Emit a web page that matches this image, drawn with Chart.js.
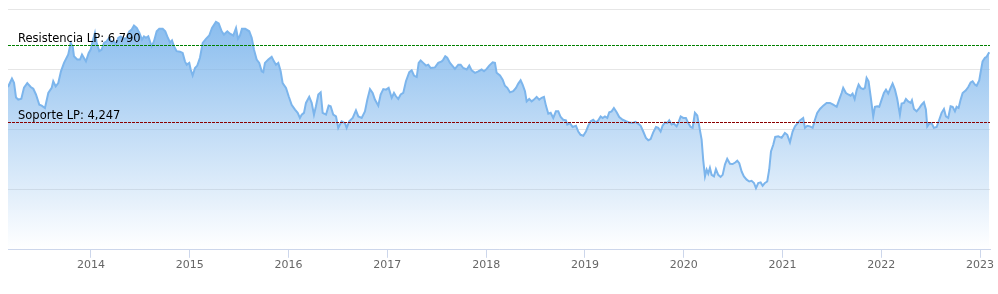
<!DOCTYPE html>
<html>
<head>
<meta charset="utf-8">
<script src="https://cdn.jsdelivr.net/npm/chart.js@4.4.1/dist/chart.umd.min.js"></script>
<style>
  html, body { margin: 0; padding: 0; background: #ffffff; }
  #wrap { position: relative; width: 998px; height: 294px; }
</style>
</head>
<body>
<div id="wrap"><canvas id="c" width="998" height="294"></canvas></div>
<script>
// Dates as decimal years
const dates = [
  2013.160, 2013.200, 2013.221, 2013.241, 2013.264, 2013.295, 2013.322, 2013.355, 2013.390, 2013.416,
  2013.443, 2013.477, 2013.501, 2013.534, 2013.568, 2013.602, 2013.618, 2013.643, 2013.669, 2013.696,
  2013.727, 2013.770, 2013.795, 2013.815, 2013.828, 2013.861, 2013.889, 2013.909, 2013.949, 2013.977,
  2013.997, 2014.017, 2014.040, 2014.058, 2014.084, 2014.108, 2014.132, 2014.159, 2014.185, 2014.210,
  2014.233, 2014.253, 2014.276, 2014.301, 2014.334, 2014.361, 2014.388, 2014.412, 2014.435, 2014.463,
  2014.489, 2014.516, 2014.536, 2014.557, 2014.580, 2014.597, 2014.614, 2014.638, 2014.665, 2014.691,
  2014.726, 2014.752, 2014.772, 2014.800, 2014.820, 2014.840, 2014.867, 2014.901, 2014.928, 2014.951,
  2014.969, 2014.995, 2015.009, 2015.029, 2015.053, 2015.076, 2015.103, 2015.131, 2015.164, 2015.197,
  2015.225, 2015.265, 2015.293, 2015.323, 2015.346, 2015.380, 2015.407, 2015.440, 2015.468, 2015.488,
  2015.508, 2015.528, 2015.562, 2015.602, 2015.627, 2015.650, 2015.677, 2015.703, 2015.728, 2015.744,
  2015.761, 2015.795, 2015.829, 2015.852, 2015.872, 2015.896, 2015.920, 2015.940, 2015.974, 2016.001,
  2016.031, 2016.065, 2016.092, 2016.115, 2016.133, 2016.156, 2016.176, 2016.209, 2016.234, 2016.257,
  2016.277, 2016.301, 2016.325, 2016.345, 2016.379, 2016.406, 2016.426, 2016.452, 2016.480, 2016.503,
  2016.537, 2016.571, 2016.588, 2016.614, 2016.649, 2016.682, 2016.706, 2016.740, 2016.773, 2016.797,
  2016.824, 2016.851, 2016.874, 2016.908, 2016.932, 2016.959, 2016.986, 2017.013, 2017.044, 2017.067,
  2017.087, 2017.110, 2017.135, 2017.161, 2017.188, 2017.222, 2017.246, 2017.269, 2017.297, 2017.317,
  2017.337, 2017.363, 2017.391, 2017.414, 2017.438, 2017.482, 2017.515, 2017.550, 2017.566, 2017.586,
  2017.606, 2017.634, 2017.661, 2017.684, 2017.718, 2017.742, 2017.768, 2017.803, 2017.829, 2017.853,
  2017.887, 2017.920, 2017.954, 2017.978, 2018.005, 2018.031, 2018.066, 2018.089, 2018.106, 2018.140,
  2018.167, 2018.190, 2018.214, 2018.241, 2018.274, 2018.302, 2018.325, 2018.349, 2018.369, 2018.393,
  2018.410, 2018.436, 2018.461, 2018.484, 2018.511, 2018.537, 2018.562, 2018.585, 2018.605, 2018.629,
  2018.653, 2018.679, 2018.706, 2018.730, 2018.754, 2018.780, 2018.808, 2018.821, 2018.848, 2018.875,
  2018.909, 2018.932, 2018.956, 2018.983, 2019.010, 2019.033, 2019.058, 2019.084, 2019.111, 2019.135,
  2019.159, 2019.179, 2019.202, 2019.226, 2019.246, 2019.270, 2019.293, 2019.321, 2019.347, 2019.382,
  2019.415, 2019.448, 2019.483, 2019.509, 2019.539, 2019.564, 2019.590, 2019.617, 2019.641, 2019.665,
  2019.691, 2019.719, 2019.742, 2019.766, 2019.786, 2019.810, 2019.833, 2019.853, 2019.877, 2019.901,
  2019.928, 2019.944, 2019.969, 2019.995, 2020.022, 2020.046, 2020.070, 2020.090, 2020.113, 2020.137,
  2020.157, 2020.181, 2020.197, 2020.215, 2020.232, 2020.248, 2020.265, 2020.282, 2020.306, 2020.326,
  2020.349, 2020.373, 2020.394, 2020.417, 2020.440, 2020.468, 2020.495, 2020.521, 2020.542, 2020.562,
  2020.586, 2020.609, 2020.637, 2020.663, 2020.687, 2020.711, 2020.731, 2020.754, 2020.778, 2020.799,
  2020.822, 2020.845, 2020.865, 2020.883, 2020.906, 2020.926, 2020.957, 2020.991, 2021.024, 2021.048,
  2021.075, 2021.102, 2021.126, 2021.149, 2021.176, 2021.209, 2021.227, 2021.250, 2021.277, 2021.305,
  2021.328, 2021.351, 2021.379, 2021.412, 2021.446, 2021.480, 2021.513, 2021.548, 2021.574, 2021.598,
  2021.614, 2021.642, 2021.665, 2021.689, 2021.709, 2021.730, 2021.750, 2021.770, 2021.790, 2021.817,
  2021.834, 2021.851, 2021.871, 2021.892, 2021.918, 2021.935, 2021.958, 2021.979, 2022.003, 2022.026,
  2022.047, 2022.070, 2022.094, 2022.114, 2022.138, 2022.161, 2022.188, 2022.205, 2022.229, 2022.249,
  2022.272, 2022.297, 2022.310, 2022.330, 2022.357, 2022.384, 2022.408, 2022.431, 2022.451, 2022.465,
  2022.485, 2022.509, 2022.532, 2022.560, 2022.586, 2022.610, 2022.634, 2022.654, 2022.677, 2022.701,
  2022.722, 2022.745, 2022.762, 2022.782, 2022.803, 2022.823, 2022.856, 2022.880, 2022.904, 2022.924,
  2022.947, 2022.965, 2022.991, 2023.005, 2023.025, 2023.049, 2023.066, 2023.092
];
// Index level at each date
const prices = [
  5410, 5690, 5550, 5060, 4990, 5020, 5390, 5540, 5410, 5350,
  5160, 4820, 4790, 4710, 5210, 5380, 5600, 5430, 5540, 5930,
  6210, 6490, 6870, 6760, 6430, 6320, 6320, 6490, 6260, 6540,
  6650, 6930, 7210, 6870, 6600, 6650, 6870, 6930, 7040, 6870,
  6930, 6820, 7040, 7090, 7010, 7040, 7260, 7320, 7450, 7370,
  7210, 6980, 7090, 7040, 7090, 6930, 6760, 6930, 7260, 7340,
  7340, 7260, 7090, 6890, 6960, 6760, 6600, 6580, 6540, 6260,
  6150, 6210, 5990, 5790, 6040, 6120, 6380, 6870, 7010, 7120,
  7370, 7570, 7520, 7260, 7150, 7260, 7180, 7120, 7370, 7010,
  7120, 7340, 7340, 7260, 7040, 6650, 6320, 6210, 5930, 5900,
  6210, 6320, 6410, 6260, 6150, 6210, 5930, 5540, 5380, 5100,
  4820, 4660, 4550, 4380, 4490, 4550, 4880, 5080, 4880, 4490,
  4770, 5160, 5230, 4550, 4490, 4790, 4770, 4490, 4430, 4050,
  4270, 4210, 4050, 4270, 4380, 4630, 4430, 4380, 4600, 4990,
  5340, 5210, 4990, 4790, 5160, 5340, 5320, 5380, 5050, 5210,
  5100, 5010, 5160, 5210, 5600, 5900, 5960, 5790, 5740, 6210,
  6290, 6210, 6120, 6150, 6040, 6060, 6210, 6260, 6320, 6430,
  6380, 6210, 6100, 6010, 6150, 6150, 6040, 5990, 6120, 5960,
  5880, 5930, 5990, 5930, 6010, 6120, 6230, 6210, 5880, 5790,
  5650, 5450, 5380, 5230, 5270, 5380, 5520, 5630, 5490, 5270,
  4930, 5010, 4930, 4990, 5080, 4990, 5050, 5080, 4790, 4520,
  4550, 4380, 4600, 4600, 4410, 4320, 4300, 4160, 4210, 4080,
  4120, 3930, 3820, 3790, 3930, 4120, 4270, 4320, 4230, 4300,
  4430, 4380, 4430, 4380, 4570, 4600, 4710, 4570, 4410, 4320,
  4270, 4230, 4210, 4250, 4190, 4120, 3930, 3720, 3640, 3680,
  3900, 4080, 4050, 3930, 4120, 4230, 4210, 4300, 4160, 4190,
  4100, 4210, 4430, 4380, 4380, 4210, 4080, 4050, 4550, 4460,
  4100, 3660, 2990, 2440, 2660, 2530, 2720, 2490, 2440, 2680,
  2490, 2420, 2490, 2830, 3020, 2860, 2850, 2900, 2960, 2880,
  2600, 2440, 2330, 2270, 2290, 2220, 2050, 2220, 2240, 2130,
  2220, 2270, 2660, 3270, 3490, 3750, 3770, 3720, 3880, 3820,
  3570, 3930, 4100, 4190, 4300, 4380, 4050, 4120, 4100, 4050,
  4320, 4550, 4680, 4790, 4880, 4880, 4820, 4750, 4990, 5210,
  5380, 5210, 5160, 5120, 5190, 5010, 5300, 5490, 5380, 5340,
  5380, 5710, 5600, 5100, 4430, 4750, 4770, 4750, 4990, 5210,
  5320, 5190, 5380, 5520, 5320, 5010, 4490, 4860, 4880, 5010,
  4930, 4880, 4970, 4680, 4600, 4710, 4820, 4900, 4660, 4100,
  4190, 4210, 4050, 4080, 4320, 4550, 4680, 4430, 4380, 4770,
  4750, 4600, 4750, 4710, 4990, 5210, 5300, 5410, 5560, 5600,
  5490, 5450, 5630, 5900, 6260, 6380, 6410, 6560
];
const yearTicks = [2014, 2015, 2016, 2017, 2018, 2019, 2020, 2021, 2022, 2023];
const yTicks = [0, 2000, 4000, 6000, 8000];
const levelNames = ['Resistencia LP', 'Soporte LP'];
const levelValues = [6790, 4247];
const levelColors = ['#008000', '#8b0000'];

const points = dates.map((d, i) => ({ x: d, y: prices[i] }));

const levelPlugin = {
  id: 'levels',
  afterDatasetsDraw(chart) {
    const { ctx, chartArea, scales } = chart;
    ctx.save();
    levelValues.forEach((v, i) => {
      const y = Math.round(scales.y.getPixelForValue(v)) + 0.5;
      ctx.beginPath();
      ctx.setLineDash([3, 1]);
      ctx.lineWidth = 1;
      ctx.strokeStyle = levelColors[i];
      ctx.moveTo(chartArea.left, y);
      ctx.lineTo(chartArea.right, y);
      ctx.stroke();
      ctx.setLineDash([]);
      ctx.fillStyle = '#000000';
      ctx.font = '11.5px "DejaVu Sans"';
      ctx.textBaseline = 'alphabetic';
      ctx.textAlign = 'left';
      ctx.fillText(levelNames[i] + ': ' + v.toLocaleString('en-US'), chartArea.left + 10, y - 3.5);
    });
    ctx.restore();
  }
};

const ctx = document.getElementById('c').getContext('2d');
new Chart(ctx, {
  type: 'line',
  data: {
    datasets: [{
      data: points,
      borderColor: '#7cb5ec',
      borderWidth: 2,
      pointRadius: 0,
      tension: 0,
      fill: 'origin',
      backgroundColor: (c) => {
        const area = c.chart.chartArea;
        if (!area) return 'rgba(124,181,236,0.5)';
        const g = c.chart.ctx.createLinearGradient(0, area.top, 0, area.bottom);
        g.addColorStop(0, 'rgba(124,181,236,0.95)');
        g.addColorStop(1, 'rgba(124,181,236,0)');
        return g;
      }
    }]
  },
  options: {
    responsive: false,
    animation: false,
    devicePixelRatio: 1,
    layout: { padding: { left: 8, right: 8, top: 9, bottom: 21 } },
    plugins: { legend: { display: false }, tooltip: { enabled: false } },
    scales: {
      x: {
        type: 'linear',
        min: 2013.16,
        max: 2023.10,
        afterBuildTicks: (s) => { s.ticks = yearTicks.map(v => ({ value: v })); },
        ticks: {
          autoSkip: false,
          maxRotation: 0,
          padding: 1,
          color: '#666666',
          font: { family: '"DejaVu Sans"', size: 11 },
          callback: (v) => String(v)
        },
        grid: { drawOnChartArea: false, drawTicks: true, tickLength: 8, color: '#ccd6eb' },
        border: { display: true, color: '#ccd6eb', width: 1 }
      },
      y: {
        min: 0,
        max: 8000,
        afterBuildTicks: (s) => { s.ticks = yTicks.map(v => ({ value: v })); },
        ticks: { display: false },
        grid: { color: '#e6e6e6', drawTicks: false },
        border: { display: false }
      }
    }
  },
  plugins: [levelPlugin]
});
</script>
</body>
</html>
